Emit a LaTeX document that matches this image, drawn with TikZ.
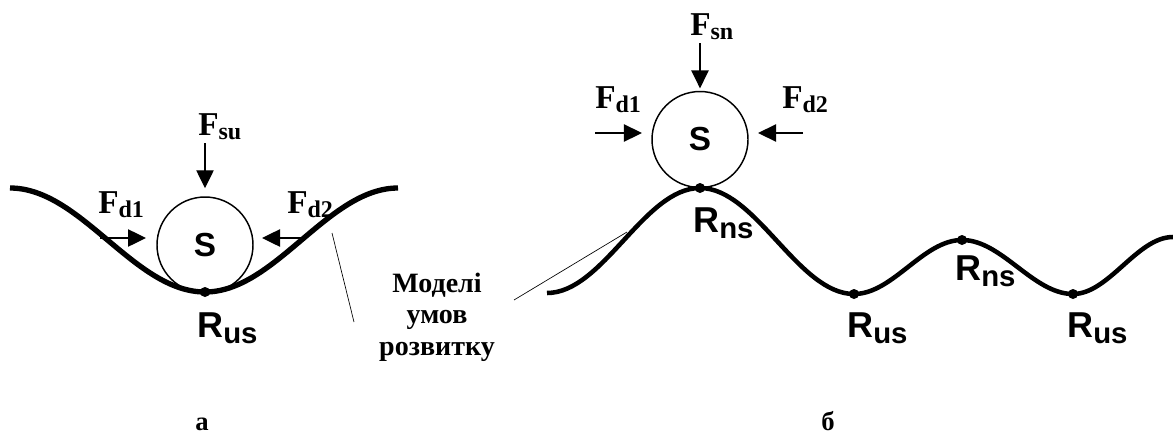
\documentclass[tikz,border=0pt]{standalone}
\usepackage{fontspec}
\setmainfont{Liberation Serif}
\newfontfamily\arialf{Liberation Sans}
\usetikzlibrary{arrows.meta}
\tikzset{
 groundA/.style={line width=4pt},
 groundB/.style={line width=3.4pt},
 ball/.style={circle, draw, line width=1.1pt, minimum size=72pt, inner sep=0pt,
   font=\arialf\bfseries\fontsize{25}{25}\selectfont},
 force/.style={line width=1pt, -{Triangle[length=13.5pt,width=13pt]}},
 lbl/.style={inner sep=0pt, anchor=base west},
 leader/.style={line width=0.5pt},
 dot/.style={circle, fill, inner sep=0pt, minimum size=7.5pt},
 note/.style={inner sep=0pt, align=center, font=\bfseries\fontsize{21}{23.6}\selectfont},
 captext/.style={inner sep=0pt, anchor=base, font=\bfseries\fontsize{20}{20}\selectfont},
}
\newcommand{\Flab}[1]{{\bfseries\fontsize{25}{25}\selectfont F\raisebox{-3pt}{\fontsize{18}{18}\selectfont #1}}}
\newcommand{\Rlab}[2]{{\arialf\bfseries\fontsize{27}{27}\selectfont R\raisebox{#2}{\fontsize{22}{22}\selectfont #1}}}
\begin{document}
\begin{tikzpicture}[x=0.75pt,y=-0.75pt]
\useasboundingbox (0,0) rectangle (1173,436);
% ---------- (a) ----------
\draw[groundA] (10,188) .. controls (81,188) and (134,292) .. (205,292)
  .. controls (275,292) and (328,188) .. (398,188);
\node[ball] (cA) at (205,245) {S};
\node[dot] (rA) at (205,292) {};
\coordinate (suA) at (205,143);
\draw[force, shorten >=6pt] (suA) -- (cA.north);
\coordinate (d1A) at (100,238);
\draw[force, shorten >=7.7pt] (d1A) -- (d1A -| cA.west);
\coordinate (d2A) at (307,238);
\draw[force, shorten >=6.2pt] (d2A) -- (d2A -| cA.east);
\node[lbl] (fsu) at (198,135) {\Flab{su}};
\node[lbl] (fd1a) at (98,213) {\Flab{d1}};
\node[lbl] (fd2a) at (287,213) {\Flab{d2}};
\node[lbl] (rusA) at (197,337) {\Rlab{us}{-4.5pt}};
% leaders and note
\node[note] (note) at (437,317) {Моделі\\умов\\розвитку};
\coordinate (la1) at (332,233);
\coordinate (la2) at (354,322);
\draw[leader] (la1) -- (la2);
\coordinate (lb1) at (514,300);
\coordinate (lb2) at (627,232);
\draw[leader] (lb1) -- (lb2);
% ---------- (b) ----------
\draw[groundB] (547,293) .. controls (603,293) and (644,188) .. (700,188)
  .. controls (756,188) and (798,294) .. (854,294)
  .. controls (893,294) and (923,240) .. (962,240)
  .. controls (1002,240) and (1033,294) .. (1073,294)
  .. controls (1109,294) and (1137,237) .. (1173,237);
\node[ball] (cB) at (700,139.5) {S};
\node[dot] (rB1) at (700,188) {};
\node[dot] (rB2) at (854,294) {};
\node[dot] (rB3) at (962,240) {};
\node[dot] (rB4) at (1073,294) {};
\coordinate (snB) at (700,43);
\draw[force, shorten >=1.8pt] (snB) -- (cB.north);
\coordinate (d1B) at (595,133);
\draw[force, shorten >=7pt] (d1B) -- (d1B -| cB.west);
\coordinate (d2B) at (803,133);
\draw[force, shorten >=7pt] (d2B) -- (d2B -| cB.east);
\node[lbl] (fsn) at (690,35) {\Flab{sn}};
\node[lbl] (fd1b) at (595,108) {\Flab{d1}};
\node[lbl] (fd2b) at (782,108) {\Flab{d2}};
\node[lbl] (rnsB1) at (693,232) {\Rlab{ns}{-4.5pt}};
\node[lbl] (rnsB2) at (955,280) {\Rlab{ns}{-5pt}};
\node[lbl] (rusB1) at (847,337) {\Rlab{us}{-5pt}};
\node[lbl] (rusB2) at (1067,337) {\Rlab{us}{-5pt}};
% captions
\node[captext] (capa) at (202,430) {а};
\node[captext] (capb) at (828,430) {б};
\end{tikzpicture}
\end{document}
